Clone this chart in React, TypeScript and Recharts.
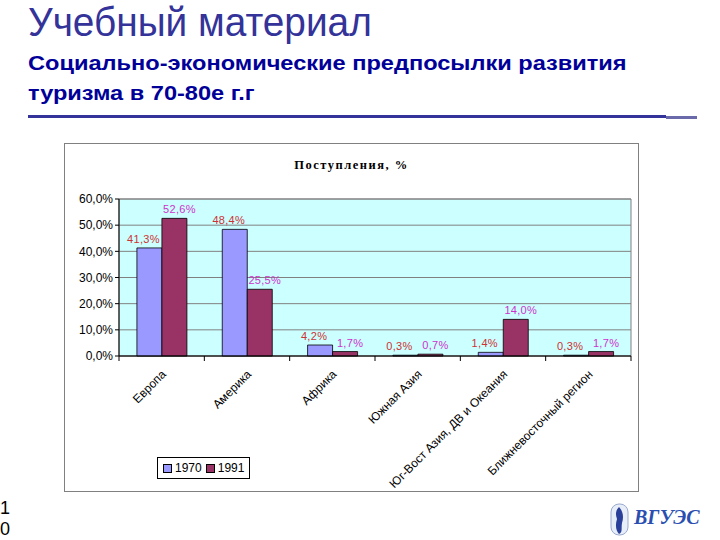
import { BarChart, Bar, XAxis, YAxis, CartesianGrid, Legend, LabelList, ReferenceArea } from 'recharts'

const regions = ['Европа', 'Америка', 'Африка', 'Южная Азия', 'Юг-Вост Азия, ДВ и Океания', 'Ближневосточный регион']
const share1970 = [41.3, 48.4, 4.2, 0.3, 1.4, 0.3]
const share1991 = [52.6, 25.5, 1.7, 0.7, 14.0, 1.7]
const yTicks = [0, 10, 20, 30, 40, 50, 60]
const seriesNames = ['1970', '1991']

const data = regions.map((region, i) => ({ region, y1970: share1970[i], y1991: share1991[i] }))

const SANS = '"Liberation Sans", Arial, sans-serif'
const pct = (v: number) => v.toFixed(1).replace('.', ',') + '%'

function RegionTick(props: any) {
  const { x, y, payload, index, visibleTicksCount } = props
  const half = payload.offset ?? 0
  const isLast = index === visibleTicksCount - 1
  return (
    <g>
      <line x1={x - half} x2={x - half} y1={y} y2={y + 5} stroke="#000" />
      {isLast && <line x1={x + half} x2={x + half} y1={y} y2={y + 5} stroke="#000" />}
      <text
        transform={`translate(${x + 5},${y + 19}) rotate(-45)`}
        textAnchor="end"
        fontSize={12}
        fontFamily={SANS}
        fill="#000"
      >
        {payload.value}
      </text>
    </g>
  )
}

const makeLabel = (color: string, dx: number) => (props: any) => {
  const { x, y, width, value } = props
  return (
    <text x={x + width / 2 + dx} y={y - 5} textAnchor="middle" fill={color} fontSize={11} letterSpacing={0.3} fontFamily={SANS}>
      {pct(value)}
    </text>
  )
}

function LegendBox() {
  const colors = ['#9999ff', '#993366']
  return (
    <div
      style={{
        display: 'inline-flex',
        alignItems: 'center',
        border: '1px solid #000',
        background: '#fff',
        padding: '3px 5px',
        fontSize: 12,
        fontFamily: SANS,
        color: '#000',
        whiteSpace: 'nowrap',
      }}
    >
      {seriesNames.map((name, i) => (
        <span key={name} style={{ display: 'inline-flex', alignItems: 'center', marginRight: i === 0 ? 4 : 0 }}>
          <span style={{ width: 7, height: 7, background: colors[i], border: '1px solid #000', marginRight: 3 }} />
          {name}
        </span>
      ))}
    </div>
  )
}

export default function App() {
  return (
    <div style={{ position: 'absolute', left: 0, top: 0, width: 720, height: 540, background: '#fff', overflow: 'hidden', fontFamily: SANS }}>
      <div
        style={{
          position: 'absolute',
          left: 28,
          top: 0,
          fontSize: 40,
          lineHeight: '44px',
          color: '#333399',
          whiteSpace: 'nowrap',
          transform: 'scaleX(0.97)',
          transformOrigin: 'left top',
        }}
      >
        Учебный материал
      </div>
      <div
        style={{
          position: 'absolute',
          left: 28,
          top: 48,
          fontSize: 20.5,
          lineHeight: '30px',
          fontWeight: 'bold',
          color: '#000099',
          whiteSpace: 'nowrap',
          transform: 'scaleX(1.15)',
          transformOrigin: 'left top',
        }}
      >
        Социально-экономические предпосылки развития
        <br />
        туризма в 70-80е г.г
      </div>
      <div style={{ position: 'absolute', left: 28, top: 115, width: 638, height: 3, background: '#333399' }} />
      <div style={{ position: 'absolute', left: 666, top: 116, width: 31, height: 3, background: '#6a6aaa' }} />

      <div style={{ position: 'absolute', left: 64, top: 143, width: 575, height: 349, border: '1px solid #808080', boxSizing: 'border-box' }} />
      <div
        style={{
          position: 'absolute',
          left: 64,
          top: 158,
          width: 575,
          textAlign: 'center',
          fontFamily: '"Liberation Serif", "Times New Roman", serif',
          fontWeight: 'bold',
          fontSize: 12.5,
          letterSpacing: 1.5,
        }}
      >
        Поступления, %
      </div>
      <div style={{ position: 'absolute', left: 64, top: 143 }}>
        <BarChart width={573} height={349} data={data} margin={{ top: 56, right: 6, left: 0, bottom: 0 }} barCategoryGap="21%" barGap={0}>
          <CartesianGrid vertical={false} stroke="#808080" fill="#ccffff" fillOpacity={1} />
          <ReferenceArea y1={0} y2={60} fill="none" stroke="#808080" />
          <XAxis
            dataKey="region"
            height={136}
            interval={0}
            tickSize={0}
            tickMargin={0}
            tickLine={false}
            axisLine={{ stroke: '#000' }}
            tick={<RegionTick />}
          />
          <YAxis
            domain={[0, 60]}
            ticks={yTicks}
            interval={0}
            width={55}
            tickSize={4}
            tickFormatter={pct}
            axisLine={{ stroke: '#000' }}
            tickLine={{ stroke: '#000' }}
            tick={{ fontSize: 12, fill: '#000', fontFamily: SANS }}
          />
          <Legend
            layout="horizontal"
            verticalAlign="middle"
            align="center"
            wrapperStyle={{ left: 93, top: 314, width: 'auto', height: 'auto' }}
            content={<LegendBox />}
          />
          <Bar dataKey="y1970" name={seriesNames[0]} fill="#9999ff" stroke="#000" strokeWidth={0.8} isAnimationActive={false}>
            <LabelList dataKey="y1970" content={makeLabel('#cc3333', -6)} />
          </Bar>
          <Bar dataKey="y1991" name={seriesNames[1]} fill="#993366" stroke="#000" strokeWidth={0.8} isAnimationActive={false}>
            <LabelList dataKey="y1991" content={makeLabel('#cc33cc', 5)} />
          </Bar>
        </BarChart>
      </div>

      <div style={{ position: 'absolute', left: 0, top: 498, fontSize: 18, lineHeight: '21px', color: '#000' }}>
        1
        <br />0
      </div>
      <svg style={{ position: 'absolute', left: 610, top: 503 }} width={20} height={34}>
        <rect x={1} y={1} width={17} height={31} rx={8} fill="#e8eef8" stroke="#9aaad0" />
        <path d="M9 4 C13 8 14 14 12 20 C11 25 13 29 9 31 C6 28 5 22 7 16 C5 11 6 7 9 4 Z" fill="#2a3f9a" />
      </svg>
      <div style={{ position: 'absolute', left: 634, top: 506, fontSize: 20, fontStyle: 'italic', fontWeight: 'bold', fontFamily: '"Liberation Serif", serif', color: '#2a4fb0', whiteSpace: 'nowrap' }}>
        ВГУЭС
      </div>
    </div>
  )
}
